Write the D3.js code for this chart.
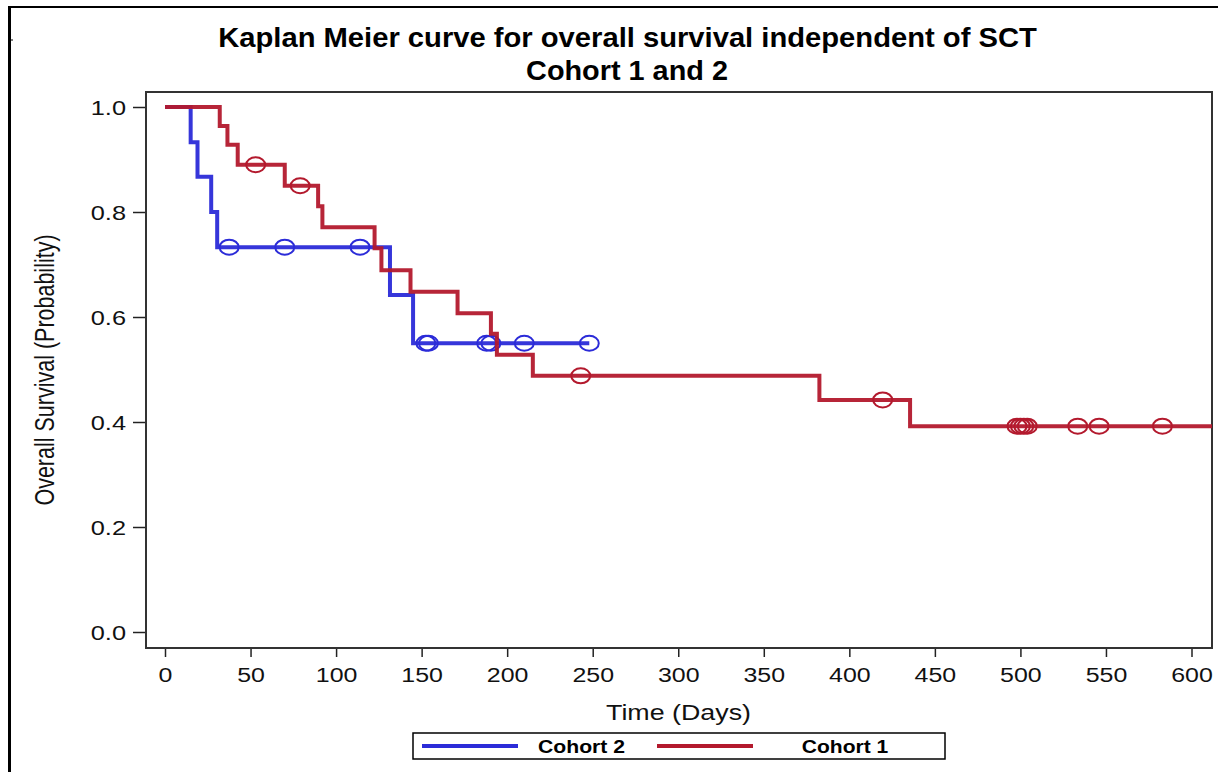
<!DOCTYPE html>
<html>
<head>
<meta charset="utf-8">
<script src="https://cdn.jsdelivr.net/npm/d3@7"></script>
<style>
  html, body { margin: 0; padding: 0; background: #fff; }
  svg { display: block; font-family: "Liberation Sans", Arial, sans-serif; }
</style>
</head>
<body>
<svg id="chart" width="1218" height="772"></svg>
<script>
// ---------------- data ----------------
const seriesNames = ["Cohort 2", "Cohort 1"];
// Kaplan-Meier step points [time (days), survival probability]
const cohort2Steps = [[0, 1.0], [15, 0.933], [19, 0.867], [27, 0.800], [30.5, 0.733],
  [131.5, 0.642], [145, 0.550], [248, 0.550]];
const cohort1Steps = [[0, 1.0], [32, 0.964], [36.5, 0.928], [42.5, 0.890], [70, 0.850],
  [89.5, 0.811], [92, 0.771], [122.5, 0.731], [126.5, 0.689], [143.5, 0.648],
  [171, 0.607], [190.5, 0.568], [194, 0.528], [215, 0.488], [382.5, 0.442],
  [435.5, 0.392], [615, 0.392]];
// censored observations [time, survival]
const cohort2Censor = [[37.5, 0.733], [70, 0.733], [114, 0.733], [152.5, 0.550], [154, 0.550],
  [188, 0.550], [190.5, 0.550], [210, 0.550], [248, 0.550]];
const cohort1Censor = [[53, 0.890], [79, 0.850], [243, 0.488], [419.5, 0.442],
  [498, 0.392], [500, 0.392], [502, 0.392], [504, 0.392], [533.5, 0.392], [546, 0.392], [583, 0.392]];
const xTicks = [0, 50, 100, 150, 200, 250, 300, 350, 400, 450, 500, 550, 600];
const yTicks = [0.0, 0.2, 0.4, 0.6, 0.8, 1.0];
const titleLines = ["Kaplan Meier curve for overall survival independent of SCT", "Cohort 1 and 2"];
const xLabel = "Time (Days)";
const yLabel = "Overall Survival (Probability)";

// ---------------- layout ----------------
const colors = { "Cohort 2": "#2b2bd8", "Cohort 1": "#b3192d" };
const plot = { left: 146, right: 1212, top: 92, bottom: 648 };
const svg = d3.select("#chart");

const x = d3.scaleLinear().domain([0, 600]).range([165, 1191.5]);
const y = d3.scaleLinear().domain([0, 1]).range([632, 107]);

// helper: horizontally stretch a text so its width matches target
function fitWidth(sel, target, ax, ay, anchor) {
  sel.each(function() {
    const w = this.getBBox().width;
    const s = target / w;
    d3.select(this).attr("x", 0).attr("y", 0).attr("text-anchor", anchor)
      .attr("transform", `translate(${ax},${ay}) scale(${s},1)`);
  });
}

// outer frame
svg.append("line").attr("x1", 9.5).attr("x2", 9.5).attr("y1", 6).attr("y2", 772)
  .attr("stroke", "#000").attr("stroke-width", 3);
svg.append("line").attr("x1", 8).attr("x2", 1218).attr("y1", 7).attr("y2", 7)
  .attr("stroke", "#000").attr("stroke-width", 2);
svg.append("line").attr("x1", 10).attr("x2", 13).attr("y1", 40).attr("y2", 40)
  .attr("stroke", "#000").attr("stroke-width", 1);

// title
const t1 = svg.append("text").text(titleLines[0]).attr("font-weight", "bold")
  .attr("font-size", 27.5).attr("fill", "#000");
fitWidth(t1, 819, 627.5, 47, "middle");
const t2 = svg.append("text").text(titleLines[1]).attr("font-weight", "bold")
  .attr("font-size", 27.5).attr("fill", "#000");
fitWidth(t2, 202, 627, 80, "middle");

// clip
svg.append("clipPath").attr("id", "clip").append("rect")
  .attr("x", plot.left).attr("y", plot.top)
  .attr("width", plot.right - plot.left).attr("height", plot.bottom - plot.top);

// axes
const xAxis = svg.append("g").attr("transform", `translate(0,${plot.bottom})`)
  .call(d3.axisBottom(x).tickValues(xTicks).tickSize(9).tickFormat(d3.format("d")));
xAxis.select(".domain").remove();
xAxis.selectAll(".tick line").attr("stroke", "#222").attr("stroke-width", 1.5);
xAxis.selectAll(".tick text").attr("font-size", 19.5).attr("fill", "#111")
  .attr("font-family", "Liberation Sans, Arial, sans-serif")
  .attr("dy", 0).attr("y", 0).attr("text-anchor", "middle")
  .attr("transform", "translate(0,34) scale(1.28,1)");

const yAxis = svg.append("g").attr("transform", `translate(${plot.left},0)`)
  .call(d3.axisLeft(y).tickValues(yTicks).tickSize(13).tickFormat(d3.format(".1f")));
yAxis.select(".domain").remove();
yAxis.selectAll(".tick line").attr("stroke", "#222").attr("stroke-width", 1.5);
yAxis.selectAll(".tick text").attr("font-size", 19.5).attr("fill", "#111")
  .attr("font-family", "Liberation Sans, Arial, sans-serif")
  .attr("x", 0).attr("dy", "0.36em").attr("text-anchor", "end")
  .attr("transform", "translate(-20,0) scale(1.3,1)");

// plot frame
svg.append("rect").attr("x", plot.left).attr("y", plot.top)
  .attr("width", plot.right - plot.left).attr("height", plot.bottom - plot.top)
  .attr("fill", "none").attr("stroke", "#333").attr("stroke-width", 2);

// axis labels
const xl = svg.append("text").text(xLabel).attr("font-size", 22).attr("fill", "#111");
fitWidth(xl, 145, 678.5, 720, "middle");
svg.append("text").text(yLabel).attr("font-size", 21.5).attr("fill", "#111")
  .attr("text-anchor", "middle")
  .attr("transform", "translate(54,370) rotate(-90) scale(1,1.28)");

// curves
const line = d3.line().x(d => x(d[0])).y(d => y(d[1])).curve(d3.curveStepAfter);
const g = svg.append("g").attr("clip-path", "url(#clip)");
const series = [
  { name: "Cohort 2", steps: cohort2Steps, censor: cohort2Censor },
  { name: "Cohort 1", steps: cohort1Steps, censor: cohort1Censor }
];
series.forEach(s => {
  g.append("path").datum(s.steps).attr("d", line)
    .attr("fill", "none").attr("stroke", colors[s.name]).attr("stroke-width", 4)
    .attr("stroke-opacity", 0.95);
  g.selectAll(null).data(s.censor).enter().append("ellipse")
    .attr("cx", d => x(d[0])).attr("cy", d => y(d[1]))
    .attr("rx", 9.5).attr("ry", 7.5)
    .attr("fill", "none").attr("stroke", colors[s.name]).attr("stroke-width", 2);
});

// legend
const leg = svg.append("g");
leg.append("rect").attr("x", 413).attr("y", 733).attr("width", 532).attr("height", 26)
  .attr("fill", "#fff").attr("stroke", "#000").attr("stroke-width", 1.5);
const legItems = [
  { name: seriesNames[0], x1: 422, x2: 518, tx: 581.5 },
  { name: seriesNames[1], x1: 657, x2: 753, tx: 845 }
];
legItems.forEach(it => {
  leg.append("line").attr("x1", it.x1).attr("x2", it.x2).attr("y1", 746).attr("y2", 746)
    .attr("stroke", colors[it.name]).attr("stroke-width", 4);
  const tt = leg.append("text").text(it.name).attr("font-weight", "bold")
    .attr("font-size", 19).attr("fill", "#000");
  fitWidth(tt, 87, it.tx, 753, "middle");
});
</script>
</body>
</html>
